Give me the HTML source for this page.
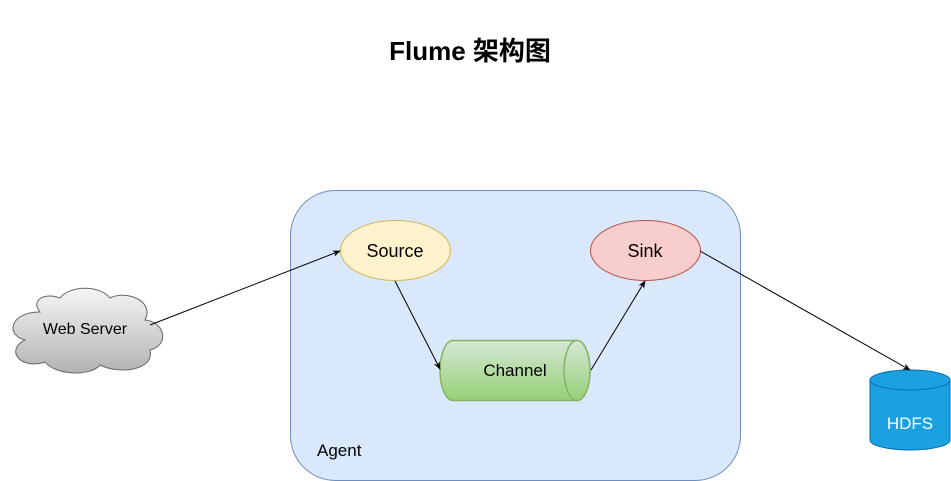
<!DOCTYPE html>
<html><head><meta charset="utf-8"><style>html,body{margin:0;padding:0;background:#fff}svg{display:block}</style></head>
<body>
<svg width="951" height="481" viewBox="0 0 951 481" xmlns="http://www.w3.org/2000/svg" font-family="Liberation Sans, Arial, sans-serif">
<defs>
<linearGradient id="cg" x1="0" y1="0" x2="0" y2="1"><stop offset="0" stop-color="#f5f5f5"/><stop offset="1" stop-color="#b3b3b3"/></linearGradient>
<linearGradient id="gg" x1="0" y1="0" x2="0" y2="1"><stop offset="0" stop-color="#d5e8d4"/><stop offset="1" stop-color="#97d077"/></linearGradient>
<marker id="a" viewBox="0 0 10 10" refX="9" refY="5" markerWidth="8" markerHeight="8" orient="auto"><path d="M0,1 L10,5 L0,9 L3,5 z" fill="#000"/></marker>
</defs>
<text x="470" y="60" text-anchor="middle" font-size="26" font-weight="bold" font-family="Liberation Sans, Noto Sans CJK SC, sans-serif">Flume 架构图</text>
<rect x="290.5" y="190.5" width="450" height="290" rx="45" fill="#dae8fc" stroke="#6c8ebf"/>
<text x="317" y="456" font-size="17" fill="#000">Agent</text>
<ellipse cx="395.5" cy="250.5" rx="55" ry="30" fill="#fff2cc" stroke="#d6b656"/>
<text x="395" y="257" text-anchor="middle" font-size="18">Source</text>
<ellipse cx="645.5" cy="250.5" rx="55" ry="30" fill="#f8cecc" stroke="#b85450"/>
<text x="645" y="257" text-anchor="middle" font-size="18">Sink</text>
<path d="M453,340.5 L577,340.5 A13,30 0 0 1 577,400.5 L453,400.5 A13,30 0 0 1 453,340.5 z" fill="url(#gg)" stroke="#82b366" stroke-width="1.5"/>
<ellipse cx="577" cy="370.5" rx="13" ry="30" fill="url(#gg)" stroke="#82b366" stroke-width="1.5"/>
<text x="515" y="376" text-anchor="middle" font-size="17">Channel</text>
<path d="M40,312 C10,312 5,335 25,340 C5,350 20,370 45,362 C55,375 90,377 100,365 C120,375 155,370 150,350 C170,345 165,322 145,320 C155,300 125,290 110,298 C100,285 70,285 60,298 C45,292 30,300 40,312 z" fill="url(#cg)" stroke="#666"/>
<text x="85" y="334" text-anchor="middle" font-size="16">Web Server</text>
<path d="M870,380 L870,440 A40,10 0 0 0 950,440 L950,380" fill="#1ba1e2" stroke="#006eaf"/>
<ellipse cx="910" cy="380" rx="40" ry="10" fill="#1ba1e2" stroke="#006eaf"/>
<text x="910" y="429" text-anchor="middle" font-size="17" fill="#fff">HDFS</text>
<g stroke="#000" fill="none" marker-end="url(#a)">
<line x1="150" y1="325" x2="340" y2="251"/>
<line x1="395" y1="281" x2="440" y2="369"/>
<line x1="591" y1="370" x2="645" y2="281"/>
<line x1="700" y1="251" x2="910" y2="370"/>
</g>
</svg>
</body></html>
